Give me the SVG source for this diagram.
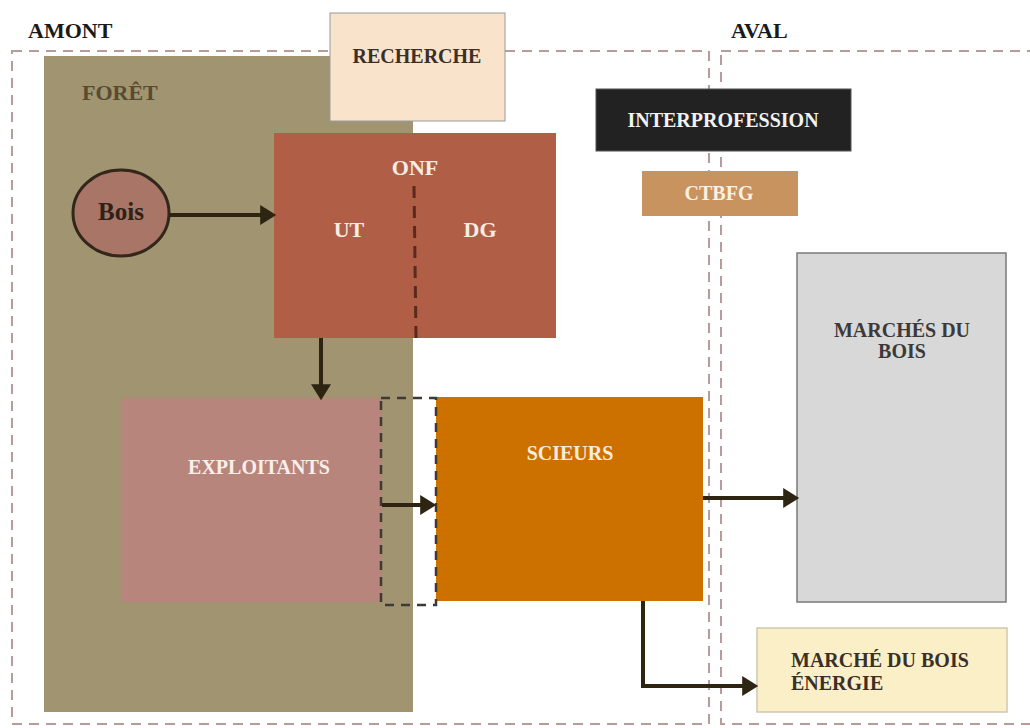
<svg xmlns="http://www.w3.org/2000/svg" width="1030" height="728" viewBox="0 0 1030 728">
<defs>
<style>
.t{font-family:"Liberation Serif","DejaVu Serif",serif;font-weight:bold;}
.zone{fill:none;stroke:#b89c99;stroke-width:2;stroke-dasharray:10 7;}
.conn{fill:none;stroke:#2e2412;stroke-width:4;}
</style>
<marker id="ah" markerWidth="5" markerHeight="5" refX="3.2" refY="2.5" orient="auto" markerUnits="strokeWidth">
<path d="M0,0 L4,2.5 L0,5 Z" fill="#2e2412"/>
</marker>
</defs>
<rect width="1030" height="728" fill="#ffffff"/>
<g id="zones">
<rect class="zone" x="12" y="51" width="697" height="673"/>
<rect class="zone" x="721" y="51" width="320" height="673"/>
<text class="t" x="28" y="38" font-size="22" fill="#1a1a1a">AMONT</text>
<text class="t" x="731" y="38" font-size="22" fill="#1a1a1a">AVAL</text>
</g>
<g id="foret">
<rect x="44" y="56" width="369" height="656" fill="#a09570"/>
<text class="t" x="82" y="100" font-size="22" fill="#5a4a30">FORÊT</text>
</g>
<g id="recherche">
<rect x="330" y="13" width="175" height="108" fill="#f9e3cb" stroke="#9a9a9a" stroke-width="1"/>
<text class="t" x="417" y="63" font-size="20" fill="#3a3028" text-anchor="middle">RECHERCHE</text>
</g>
<g id="onf">
<rect x="274" y="133" width="282" height="205" fill="#b05f46"/>
<line x1="414" y1="186" x2="416" y2="338" stroke="#5a2a1c" stroke-width="3" stroke-dasharray="12 8"/>
<text class="t" x="415" y="175" font-size="22" fill="#f8ece4" text-anchor="middle">ONF</text>
<text class="t" x="349" y="237" font-size="22" fill="#f8ece4" text-anchor="middle">UT</text>
<text class="t" x="480" y="237" font-size="22" fill="#f8ece4" text-anchor="middle">DG</text>
</g>
<g id="bois">
<ellipse cx="121" cy="213" rx="48" ry="43" fill="#a87566" stroke="#33261a" stroke-width="3"/>
<text class="t" x="121" y="220" font-size="25" fill="#2e2218" text-anchor="middle">Bois</text>
</g>
<g id="interprofession">
<rect x="596" y="89" width="255" height="62" fill="#222222" stroke="#555" stroke-width="1"/>
<text class="t" x="723" y="127" font-size="20" fill="#f2f2f2" text-anchor="middle">INTERPROFESSION</text>
</g>
<g id="ctbfg">
<rect x="642" y="171" width="156" height="45" fill="#c8935e"/>
<text class="t" x="719" y="200" font-size="20" fill="#faf0e4" text-anchor="middle">CTBFG</text>
</g>
<g id="exploitants">
<rect x="121" y="398" width="261" height="204" fill="#b8857c"/>
<text class="t" x="259" y="474" font-size="20" fill="#f8efe9" text-anchor="middle">EXPLOITANTS</text>
</g>
<g id="scieurs">
<rect x="436" y="397" width="267" height="204" fill="#cc7000"/>
<text class="t" x="570" y="460" font-size="20" fill="#f9ecdc" text-anchor="middle">SCIEURS</text>
</g>
<g id="interface">
<rect x="381" y="398" width="55" height="207" fill="none" stroke="#3d3a36" stroke-width="2.5" stroke-dasharray="9 7"/>
</g>
<g id="marches">
<rect x="797" y="253" width="209" height="349" fill="#d8d8d8" stroke="#7a7a7a" stroke-width="1.5"/>
<text class="t" x="902" y="337" font-size="20" fill="#3a3a3a" text-anchor="middle">MARCHÉS DU</text>
<text class="t" x="902" y="358" font-size="20" fill="#3a3a3a" text-anchor="middle">BOIS</text>
</g>
<g id="energie">
<rect x="757" y="628" width="250" height="84" fill="#fbefc8" stroke="#d0c8b0" stroke-width="1.5"/>
<text class="t" x="791" y="667" font-size="20" fill="#3a3028">MARCHÉ DU BOIS</text>
<text class="t" x="791" y="690" font-size="20" fill="#3a3028">ÉNERGIE</text>
</g>
<g id="connectors">
<line class="conn" x1="170" y1="215" x2="273" y2="215" marker-end="url(#ah)"/>
<line class="conn" x1="321" y1="338" x2="321" y2="397" marker-end="url(#ah)"/>
<line class="conn" x1="382" y1="505" x2="433" y2="505" marker-end="url(#ah)"/>
<line class="conn" x1="703" y1="498" x2="796" y2="498" marker-end="url(#ah)"/>
<polyline class="conn" points="643,601 643,686 755,686" marker-end="url(#ah)"/>
</g>
</svg>
